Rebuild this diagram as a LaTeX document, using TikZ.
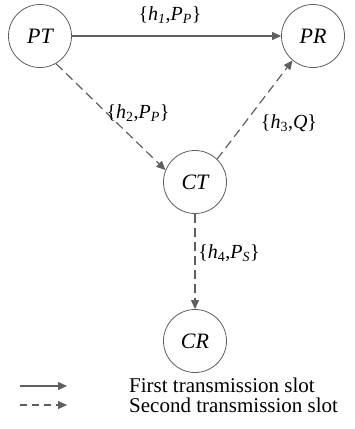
\documentclass[tikz,border=0pt]{standalone}
\usepackage{fontspec}
\setmainfont{Liberation Serif}
\usetikzlibrary{arrows.meta}
\definecolor{edgegray}{RGB}{95,95,95}
\begin{document}
\begin{tikzpicture}[x=1pt,y=-1pt,
  station/.style={circle,draw=edgegray,line width=0.8pt,minimum size=63pt,inner sep=0pt,font=\fontsize{22}{26}\selectfont\itshape},
  solidlink/.style={draw=edgegray,line width=1.2pt,-{Triangle[length=9pt,width=8pt]}},
  dashlink/.style={draw=edgegray,line width=1.2pt,dash pattern=on 9pt off 5pt,-{Triangle[length=9pt,width=8pt]}},
  lab/.style={font=\fontsize{20}{22}\selectfont,inner sep=0pt},
  legtext/.style={font=\fontsize{21}{22}\selectfont,anchor=west,inner sep=0pt}]
\useasboundingbox (0,0) rectangle (354,429);
\node[station] (PT) at (40,36) {PT};
\node[station] (PR) at (313,36) {PR};
\node[station] (CT) at (195,182) {CT};
\node[station] (CR) at (195,341) {CR};
\draw[solidlink] (PT) -- (PR);
\draw[dashlink] (PT.-60) -- (CT.158);
\draw[dashlink] (CT.46) -- (PR.-130);
\draw[dashlink] (CT) -- (CR);
\node[lab] (l1) at (170,15) {\{\textit{h}\textsubscript{\textit{1}},\textit{P}\textsubscript{\textit{P}}\}};
\node[lab] (l2) at (138,113) {\{\textit{h}\textsubscript{2},\textit{P}\textsubscript{\textit{P}}\}};
\node[lab] (l3) at (289,123) {\{\textit{h}\textsubscript{3},\textit{Q}\}};
\node[lab] (l4) at (229,253) {\{\textit{h}\textsubscript{4},\textit{P}\textsubscript{\textit{S}}\}};
\coordinate (a1) at (20,386);
\coordinate (a2) at (67,386);
\coordinate (b1) at (20,405);
\coordinate (b2) at (67,405);
\draw[solidlink] (a1) -- (a2);
\draw[dashlink,dash pattern=on 7pt off 5pt] (b1) -- (b2);
\node[legtext] (t1) at (129,385) {First transmission slot};
\node[legtext] (t2) at (129,405) {Second transmission slot};
\end{tikzpicture}
\end{document}
